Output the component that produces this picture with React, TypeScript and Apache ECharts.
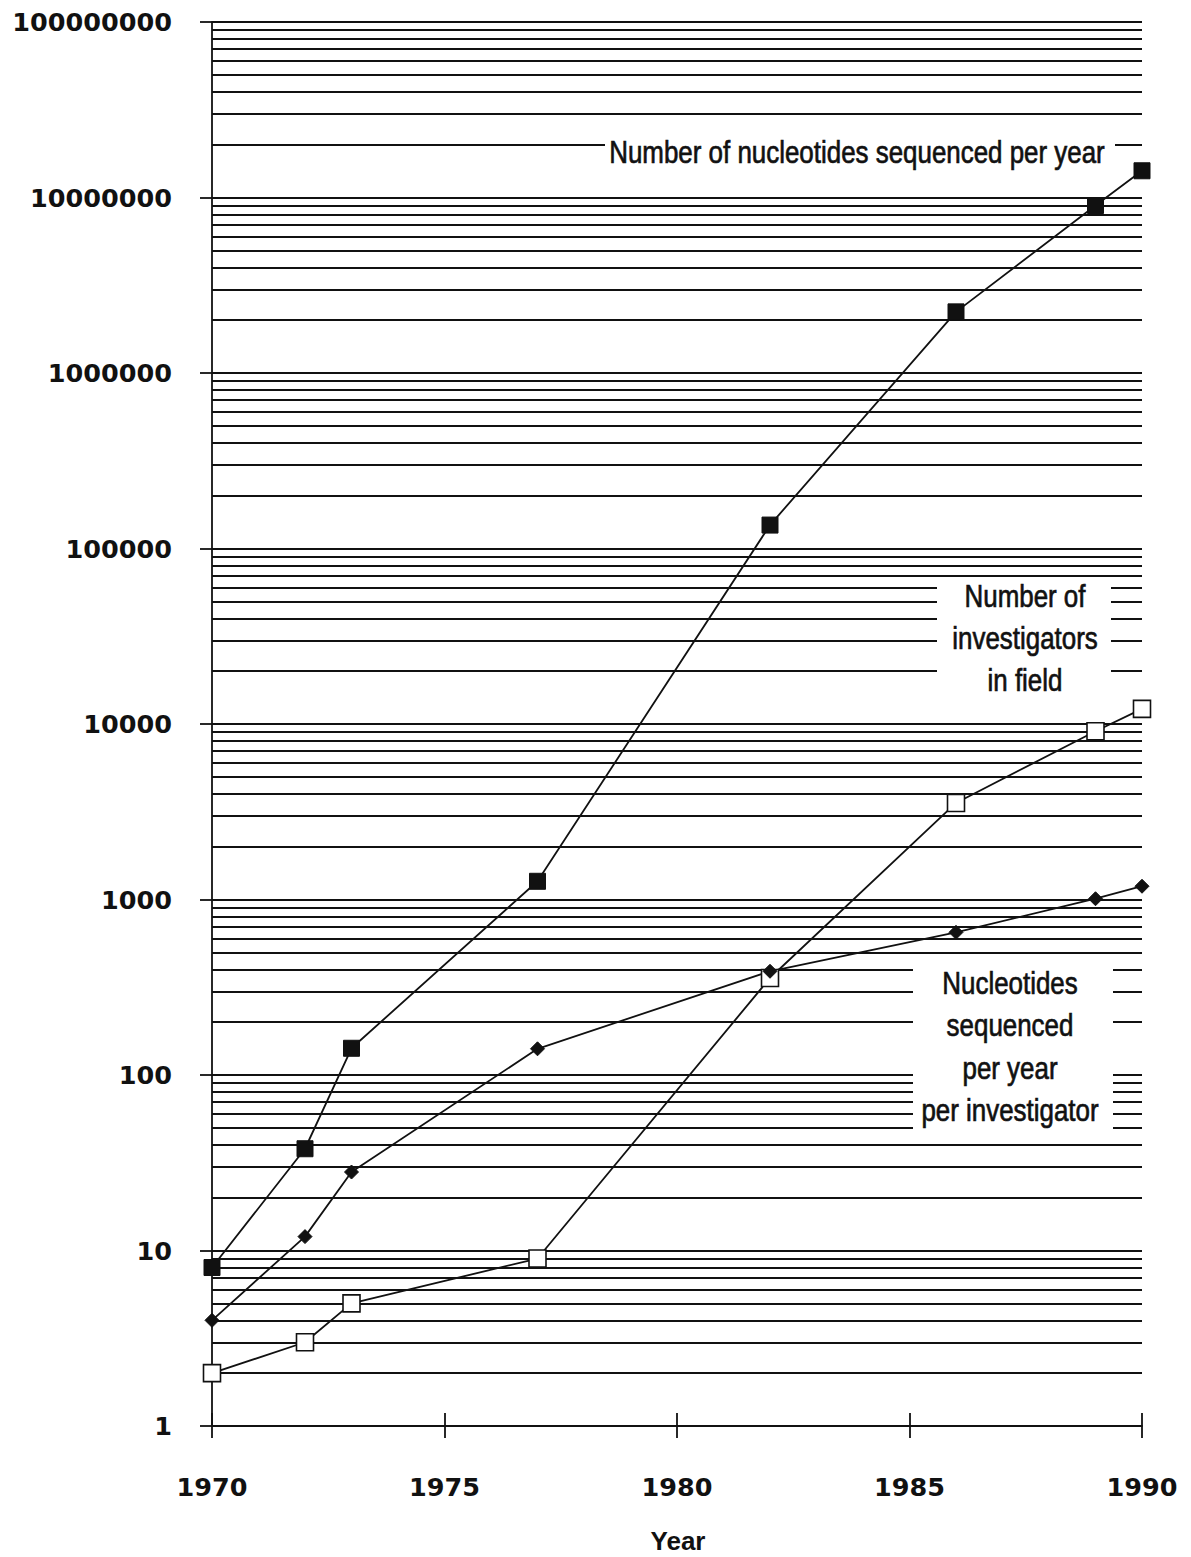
import React, { useEffect, useRef } from "react";
import * as echarts from "echarts";

const years = [1970, 1972, 1973, 1977, 1982, 1986, 1989, 1990];
const nucleotidesPerYear = [8, 38, 142, 1270, 136000, 2230000, 9000000, 14200000];
const investigators = [2, 3, 5, 9, 357, 3550, 9100, 12200];
const perInvestigator = [4, 12, 28, 141, 390, 650, 1010, 1190];

const xTicks = [1970, 1975, 1980, 1985, 1990];
const decadeExponents = [0, 1, 2, 3, 4, 5, 6, 7];
const minorMultipliers = [2, 3, 4, 5, 6, 7, 8, 9];

const topLabel = "Number of nucleotides sequenced per year";
const investigatorsLabel = ["Number of", "investigators", "in field"];
const perInvestigatorLabel = ["Nucleotides", "sequenced", "per year", "per investigator"];

const INK = "#111";
const NUM_FONT = "'DejaVu Sans', sans-serif";
const NOTE_FONT = "'Liberation Sans', Arial, sans-serif";
const GRID_W = 1.8;

export default function App() {
  const ref = useRef<HTMLDivElement>(null);
  useEffect(() => {
    if (!ref.current) return;
    const chart = echarts.init(ref.current, null, { renderer: "svg" });

    const minorValues: number[] = [];
    decadeExponents.forEach((e) => {
      minorMultipliers.forEach((m) => minorValues.push(m * Math.pow(10, e)));
    });

    const pairs = (vals: number[]) => years.map((y, i) => [y, vals[i]]);

    const noteText = (lines: string[], cx: number, cy: number, lh: number) =>
      lines.map((t, i) => ({
        type: "text",
        x: cx,
        y: cy + i * lh,
        scaleX: 0.81,
        z: 60,
        style: {
          text: t,
          fill: INK,
          stroke: INK,
          lineWidth: 0.7,
          font: `32px ${NOTE_FONT}`,
          textAlign: "center",
          textVerticalAlign: "middle",
        },
      }));

    const whiteBox = (x: number, y: number, w: number, h: number) => ({
      type: "rect",
      z: 50,
      shape: { x, y, width: w, height: h },
      style: { fill: "#fff" },
    });

    chart.setOption({
      animation: false,
      backgroundColor: "#fff",
      grid: { left: 212, right: 49, top: 22, bottom: 131, containLabel: false, outerBoundsMode: "none" },
      xAxis: [
        {
          type: "value",
          min: 1970,
          max: 1990,
          interval: 5,
          axisLine: { show: true, lineStyle: { color: INK, width: GRID_W } },
          axisTick: { show: true, length: 12, lineStyle: { color: INK, width: GRID_W } },
          splitLine: { show: false },
          axisLabel: {
            margin: 48,
            color: INK,
            fontFamily: NUM_FONT,
            fontWeight: "bold",
            fontSize: 25.5,
            formatter: (v: number) => String(v),
          },
          data: xTicks,
        },
        {
          type: "value",
          min: 1970,
          max: 1990,
          interval: 5,
          position: "bottom",
          axisLine: { show: false },
          axisTick: { show: true, inside: true, length: 13, lineStyle: { color: INK, width: GRID_W } },
          splitLine: { show: false },
          axisLabel: { show: false },
        },
      ],
      yAxis: {
        type: "log",
        logBase: 10,
        min: 1,
        max: 100000000,
        splitNumber: 8,
        axisLine: { show: true, lineStyle: { color: INK, width: GRID_W } },
        axisTick: { show: true, length: 12, lineStyle: { color: INK, width: GRID_W } },
        splitLine: { show: true, lineStyle: { color: INK, width: GRID_W } },
        axisLabel: {
          margin: 40,
          color: INK,
          fontFamily: NUM_FONT,
          fontWeight: "bold",
          fontSize: 25.5,
          formatter: (v: number) => String(Math.round(v)),
        },
      },
      series: [
        {
          type: "line",
          data: [],
          silent: true,
          markLine: {
            silent: true,
            symbol: "none",
            label: { show: false },
            lineStyle: { color: INK, width: GRID_W, type: "solid" },
            data: minorValues.map((v) => ({ yAxis: v })),
          },
        },
        {
          name: "Number of nucleotides sequenced per year",
          type: "line",
          data: pairs(nucleotidesPerYear),
          symbol: "rect",
          symbolSize: 16,
          lineStyle: { color: INK, width: 1.8 },
          itemStyle: { color: INK, borderColor: INK, borderWidth: 1 },
          z: 5,
        },
        {
          name: "Number of investigators in field",
          type: "line",
          data: pairs(investigators),
          symbol: "rect",
          symbolSize: 17,
          lineStyle: { color: INK, width: 1.8 },
          itemStyle: { color: "#fff", borderColor: INK, borderWidth: 1.6 },
          z: 5,
        },
        {
          name: "Nucleotides sequenced per year per investigator",
          type: "line",
          data: pairs(perInvestigator),
          symbol: "diamond",
          symbolSize: 14,
          lineStyle: { color: INK, width: 1.8 },
          itemStyle: { color: INK, borderColor: INK, borderWidth: 1 },
          z: 5,
        },
      ],
      graphic: [
        whiteBox(605, 130, 510, 44),
        whiteBox(937, 580, 174, 120),
        whiteBox(913, 960, 200, 177),
        ...noteText([topLabel], 857, 152, 0),
        ...noteText(investigatorsLabel, 1025, 596, 42),
        ...noteText(perInvestigatorLabel, 1010, 983, 42.5),
        {
          type: "text",
          x: 678,
          y: 1541,
          z: 60,
          style: {
            text: "Year",
            fill: INK,
            font: `bold 26px ${NOTE_FONT}`,
            textAlign: "center",
            textVerticalAlign: "middle",
          },
        },
      ],
    });
    return () => chart.dispose();
  }, []);
  return (
    <div
      ref={ref}
      style={{ position: "absolute", left: 0, top: 0, width: 1191, height: 1557, background: "#fff" }}
    />
  );
}
